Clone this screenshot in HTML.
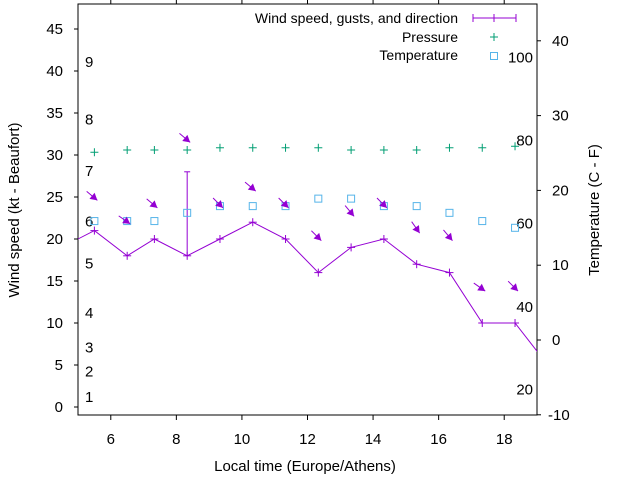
<!DOCTYPE html>
<html><head><meta charset="utf-8"><style>
html,body{margin:0;padding:0;background:#fff}
svg{display:block;font-family:"Liberation Sans",sans-serif}
</style></head><body>
<svg id="chart" width="640" height="480" viewBox="0 0 640 480" xmlns="http://www.w3.org/2000/svg">
<g id="marks"></g>
</svg>
<script>
const times=[5.5,6.5,7.33,8.33,9.33,10.33,11.33,12.33,13.33,14.33,15.33,16.33,17.33,18.33];
const windSpeed=[21,18,20,18,20,22,20,16,19,20,17,16,10,10];
const windBefore={t:4.5,v:19};
const windAfter={t:19.33,v:5};
const gustTime=[8.33];
const gustValue=[28];
const gustBase=[18];
const pressure=[25.1,25.4,25.4,25.4,25.7,25.7,25.7,25.7,25.4,25.4,25.4,25.7,25.7,25.9];
const temperature=[15.9,15.9,15.9,17,17.9,17.9,17.9,18.9,18.9,17.9,17.9,17,15.9,15];
const arrowLevel=[24.6,21.8,23.7,31.5,23.7,25.7,23.7,19.8,22.7,23.7,20.7,19.8,13.8,13.8];
const arrowAngle=[40,35,40,40,45,40,45,45,50,45,55,50,35,45];
const xTicks=[6,8,10,12,14,16,18];
const yTicks=[0,5,10,15,20,25,30,35,40,45];
const y2Ticks=[-10,0,10,20,30,40];
const beaufort=[[1,1],[2,2],[3,3],[4,4],[5,5],[6,6],[7,7],[8,8],[9,9]];
const beaufortLevel=[1.2,4.2,7.1,11.2,17.1,22.1,28.1,34.2,41.1];
const fahr=[20,40,60,80,100];
const fahrLevel=[-6.6,4.4,15.6,26.7,37.8];

const L=78,R=537,T=4,B=415;
const x=t=>L+(t-5)*(R-L)/14;
const y=v=>407-v*8.4;
const y2=v=>340-v*7.48;
const NS='http://www.w3.org/2000/svg';
const svg=document.getElementById('chart');
const g=document.getElementById('marks');
function mk(tag,attrs,parent){const e=document.createElementNS(NS,tag);for(const k in attrs)e.setAttribute(k,attrs[k]);(parent||g).appendChild(e);return e;}
function txt(s,px,py,anchor,size,parent){const e=mk('text',{x:px,y:py,'text-anchor':anchor,'font-size':size,fill:'#000'},parent);e.textContent=s;return e;}

const defs=mk('defs',{},svg);
const cp=mk('clipPath',{id:'clip'},defs);mk('rect',{x:L,y:T,width:R-L,height:B-T},cp);

const frame=mk('rect',{x:L,y:T,width:R-L,height:B-T,fill:'none',stroke:'#000','stroke-width':1});



xTicks.forEach(t=>{
 const l=mk('line',{x1:x(t),x2:x(t),y1:B,y2:B+5,stroke:'#000'});
 
 
 mk('line',{x1:x(t),x2:x(t),y1:T,y2:T-5,stroke:'#000'});
 const e=txt(String(t),x(t),444,'middle',15);
 
 
});
yTicks.forEach(v=>{
 const l=mk('line',{x1:L-4,x2:L,y1:y(v),y2:y(v),stroke:'#000'});
 
 
 const e=txt(String(v),63,y(v)+5,'end',15);
 
 
});
y2Ticks.forEach(v=>{
 const l=mk('line',{x1:R,x2:R+4,y1:y2(v),y2:y2(v),stroke:'#000'});
 
 
 const e=txt(String(v),v<0?548:552,y2(v)+5,'start',15);
 
 
});
beaufort.forEach((b,i)=>{
 const e=txt(String(b[1]),85,y(beaufortLevel[i])+5,'start',15);
 
 
});
fahr.forEach((f,i)=>{
 const e=txt(String(f),533,y2(fahrLevel[i])+5,'end',15);
 
 
});

const pg=mk('g',{'clip-path':'url(#clip)'});


const PUR='#9400d3',GRN='#009e73',BLU='#56b4e9';

const pts=[[windBefore.t,windBefore.v]].concat(times.map((t,i)=>[t,windSpeed[i]])).concat([[windAfter.t,windAfter.v]]);
const wl=mk('polyline',{points:pts.map(p=>x(p[0])+','+y(p[1])).join(' '),fill:'none',stroke:PUR,'stroke-width':1},pg);


function plus(px,py,c,name){const gg=mk('g',{stroke:c,'stroke-width':1},pg);
 
 
 mk('line',{x1:px-4,x2:px+4,y1:py,y2:py},gg);mk('line',{x1:px,x2:px,y1:py-4,y2:py+4},gg);}
times.forEach((t,i)=>plus(x(t),y(windSpeed[i]),PUR,'wind-point'));
gustTime.forEach((t,i)=>{
 const gl=mk('line',{x1:x(t),x2:x(t),y1:y(gustBase[i]),y2:y(gustValue[i]),stroke:PUR},pg);
 
 
 mk('line',{x1:x(t)-3,x2:x(t)+3,y1:y(gustValue[i]),y2:y(gustValue[i]),stroke:PUR},pg);
});
times.forEach((t,i)=>plus(x(t),y2(pressure[i]),GRN,'pressure-point'));
times.forEach((t,i)=>{
 const r=mk('rect',{x:x(t)-3.5,y:y2(temperature[i])-3.5,width:7,height:7,fill:'none',stroke:BLU,'stroke-width':1},pg);
 
 
});
times.forEach((t,i)=>{
 const hx=x(t)+3,hy=y(arrowLevel[i]);
 const a=arrowAngle[i]*Math.PI/180,len=14;
 const ux=Math.cos(a),uy=Math.sin(a);
 const ag=mk('g',{},pg);
 
 
 mk('line',{x1:hx-ux*len,y1:hy-uy*len,x2:hx,y2:hy,stroke:PUR},ag);
 const bx=hx-ux*7,by=hy-uy*7,px=-uy*4,py=ux*4;
 mk('polygon',{points:`${hx},${hy} ${bx+px},${by+py} ${bx-px},${by-py}`,fill:PUR},ag);
});

const lg=mk('g',{});


[['Wind speed, gusts, and direction',23],['Pressure',42],['Temperature',60]].forEach(a=>{
 const e=txt(a[0],458,a[1],'end',14,lg);
 
 
});
mk('line',{x1:473,x2:516,y1:18,y2:18,stroke:PUR},lg);
mk('line',{x1:473,x2:473,y1:14,y2:22,stroke:PUR},lg);
mk('line',{x1:516,x2:516,y1:14,y2:22,stroke:PUR},lg);
mk('line',{x1:494,x2:494,y1:14,y2:22,stroke:PUR},lg);
mk('line',{x1:490,x2:498,y1:37,y2:37,stroke:GRN},lg);
mk('line',{x1:494,x2:494,y1:33,y2:41,stroke:GRN},lg);
mk('rect',{x:490.5,y:52.5,width:7,height:7,fill:'none',stroke:BLU},lg);

let e=txt('Local time (Europe/Athens)',305,471,'middle',15);


e=txt('Wind speed (kt - Beaufort)',0,0,'middle',15);
e.setAttribute('transform','translate(19,210) rotate(-90)');


e=txt('Temperature (C - F)',0,0,'middle',15);
e.setAttribute('transform','translate(599,210) rotate(-90)');


</script>
</body></html>
